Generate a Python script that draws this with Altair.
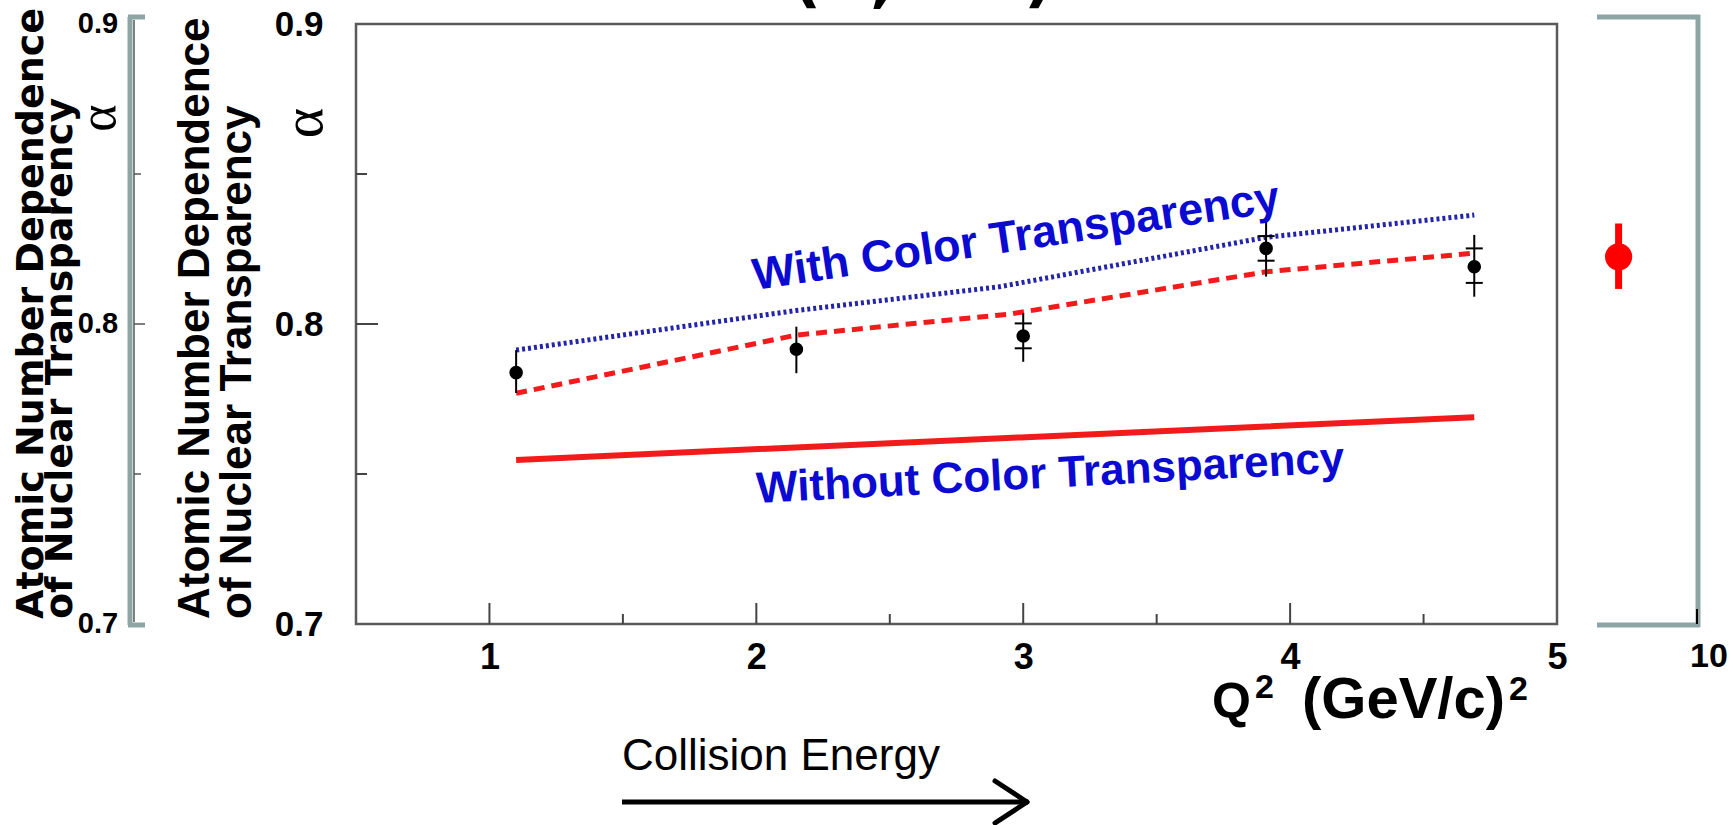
import altair as alt
import pandas as pd

# ---------------- data ----------------
q2_meas = [1.10, 2.15, 3.00, 3.91, 4.69]
alpha_meas = [0.7838, 0.7916, 0.7960, 0.8252, 0.8191]
stat_lo = [0.7770, 0.7836, 0.7874, 0.8158, 0.8091]
stat_hi = [0.7913, 0.7991, 0.8036, 0.8347, 0.8297]
q2_sys = [3.00, 3.91, 4.69]
sys_lo = [0.7919, 0.8211, 0.8137]
sys_hi = [0.8002, 0.8293, 0.8252]

q2_ct = [1.10, 2.15, 2.91, 3.91, 4.69]
alpha_ct = [0.7913, 0.8045, 0.8124, 0.8289, 0.8363]
q2_ct2 = [1.10, 2.15, 2.95, 3.91, 4.69]
alpha_ct2 = [0.7769, 0.7963, 0.8033, 0.8174, 0.8236]
q2_noct = [1.10, 2.99, 4.69]
alpha_noct = [0.7547, 0.7622, 0.7689]

q2_new = [7.2]
alpha_new = [0.8224]
new_lo = [0.8117]
new_hi = [0.8335]

x_ticks_major = [1, 2, 3, 4]
x_ticks_minor = [1.5, 2.5, 3.5, 4.5]
x_labels = [1, 2, 3, 4, 5]
x_label_right = [10]
y_labels = [0.7, 0.8, 0.9]
y_ticks_major = [0.8]
y_ticks_minor = [0.75, 0.85]

title_lines = ["Atomic Number Dependence", "of Nuclear Transparency"]
alpha_symbol = ["\u03b1"]
label_ct = ["With Color Transparency"]
label_noct = ["Without Color Transparency"]
label_energy = ["Collision Energy"]
xtitle_parts = ["Q", "2", "(GeV/c)", "2"]
top_fragments = ["(", ",", ")"]

# ---------------- styling ----------------
SANS = "Liberation Sans, Arial, Helvetica, sans-serif"
WIDE = "DejaVu Sans, Verdana, sans-serif"
SERIF = "Liberation Serif, Times New Roman, serif"
TEAL = "#8ea5a6"
BLUE_TXT = "#0a0ad2"
BLUE_LN = "#2424a8"
RED = "#f21b1b"

W, H = 1201, 600

xs = alt.Scale(domain=[0.5, 5], nice=False, zero=False)
ys = alt.Scale(domain=[0.7, 0.9], nice=False, zero=False)
xs_right = alt.Scale(domain=[5, 10], range=[1201, 1341], nice=False, zero=False)

xax = alt.Axis(values=x_labels, format="d", labelFontSize=36, labelFont=SANS,
               labelFontWeight="bold", labelColor="black", ticks=False, domain=False,
               grid=False, labelPadding=16, title=None, labelFlush=False)
yax = alt.Axis(values=y_labels, format=".1f", labelFontSize=35, labelFont=SANS,
               labelFontWeight="bold", labelColor="black", ticks=False, domain=False,
               grid=False, labelPadding=33, title=None, labelFlush=False)


def X(f):
    return alt.X(f, type="quantitative", scale=xs, axis=xax)


def Y(f):
    return alt.Y(f, type="quantitative", scale=ys, axis=yax)


def one(txt):
    return alt.Chart(pd.DataFrame({"t": txt}))


def label(txt, x, y, size, font=SANS, weight="bold", color="black", align="left",
          baseline="alphabetic", angle=0):
    return one(txt).mark_text(font=font, fontWeight=weight, fontSize=size, color=color,
                              align=align, baseline=baseline, angle=angle).encode(
        text="t:N", x=alt.value(x), y=alt.value(y))


meas = pd.DataFrame({"q2": q2_meas, "a": alpha_meas, "lo": stat_lo, "hi": stat_hi})
sysdf = pd.DataFrame({"q2": q2_sys * 2, "v": sys_lo + sys_hi})
ct = pd.DataFrame({"q2": q2_ct, "a": alpha_ct})
ct2 = pd.DataFrame({"q2": q2_ct2, "a": alpha_ct2})
noct = pd.DataFrame({"q2": q2_noct, "a": alpha_noct})

# inner ticks of the main frame
xt_major = alt.Chart(pd.DataFrame({"q": x_ticks_major})).mark_rule(color="#444", strokeWidth=2).encode(
    x=X("q"), y=alt.value(H), y2=alt.value(H - 21))
xt_minor = alt.Chart(pd.DataFrame({"q": x_ticks_minor})).mark_rule(color="#444", strokeWidth=2).encode(
    x=X("q"), y=alt.value(H), y2=alt.value(H - 10))
yt_major = alt.Chart(pd.DataFrame({"v": y_ticks_major})).mark_rule(color="#444", strokeWidth=2).encode(
    y=Y("v"), x=alt.value(0), x2=alt.value(22))
yt_minor = alt.Chart(pd.DataFrame({"v": y_ticks_minor})).mark_rule(color="#444", strokeWidth=2).encode(
    y=Y("v"), x=alt.value(0), x2=alt.value(11))

line_noct = alt.Chart(noct).mark_line(color=RED, strokeWidth=6).encode(x=X("q2"), y=Y("a"))
line_ct2 = alt.Chart(ct2).mark_line(color=RED, strokeWidth=5, strokeDash=[11, 7]).encode(x=X("q2"), y=Y("a"))
line_ct = alt.Chart(ct).mark_line(color=BLUE_LN, strokeWidth=5, strokeDash=[3, 3]).encode(x=X("q2"), y=Y("a"))

err = alt.Chart(meas).mark_rule(color="black", strokeWidth=2).encode(x=X("q2"), y=Y("lo"), y2="hi")
sysm = alt.Chart(sysdf).mark_point(shape="M -1 0 L 1 0", size=289, strokeWidth=2, color="black",
                                   filled=False, opacity=1).encode(x=X("q2"), y=Y("v"))
pts = alt.Chart(meas).mark_circle(size=185, color="black", opacity=1).encode(x=X("q2"), y=Y("a"))

txt_ct = label(label_ct, 399, 266, 45, color=BLUE_TXT, angle=351.5)
txt_noct = label(label_noct, 401, 479, 44, color=BLUE_TXT, angle=357)

# main y title (two rotated lines) and alpha
ttl1 = label([title_lines[0]], -147, 595, 44, angle=270)
ttl2 = label([title_lines[1]], -105, 595, 44, angle=270)
alp = label(alpha_symbol, -51, 99, 58, font=SERIF, weight="normal", align="center",
            baseline="middle", angle=270)

# ghost copy of the axis on the far left
g1 = label([title_lines[0]], -313, 595, 38, font=WIDE, angle=270)
g2 = label([title_lines[1]], -284, 595, 38, font=WIDE, angle=270)
galp = label(alpha_symbol, -257, 94, 52, font=SERIF, weight="normal", align="center",
             baseline="middle", angle=270)
glab = alt.Chart(pd.DataFrame({"v": y_labels})).mark_text(font=SANS, fontWeight="bold", fontSize=29,
                                                          color="black", align="center",
                                                          baseline="middle").encode(
    text=alt.Text("v:Q", format=".1f"), x=alt.value(-258), y=Y("v"))
gbr_v = one([""]).mark_rule(color=TEAL, strokeWidth=5).encode(
    x=alt.value(-226), y=alt.value(-7), y2=alt.value(601))
gbr_t = one([""]).mark_rule(color=TEAL, strokeWidth=5).encode(
    x=alt.value(-228), x2=alt.value(-211), y=alt.value(-7))
gbr_b = one([""]).mark_rule(color=TEAL, strokeWidth=5).encode(
    x=alt.value(-228), x2=alt.value(-211), y=alt.value(601))
gline = one([""]).mark_rule(color="#555", strokeWidth=1.5).encode(
    x=alt.value(-222), y=alt.value(-4), y2=alt.value(598))
gt_major = alt.Chart(pd.DataFrame({"v": y_ticks_major})).mark_rule(color="#555", strokeWidth=1.5).encode(
    y=Y("v"), x=alt.value(-222), x2=alt.value(-211))
gt_minor = alt.Chart(pd.DataFrame({"v": y_ticks_minor})).mark_rule(color="#555", strokeWidth=1.5).encode(
    y=Y("v"), x=alt.value(-222), x2=alt.value(-215))

# x title pieces and the "Collision Energy" arrow
xq = label([xtitle_parts[0]], 856, 694, 50)
xq2 = label([xtitle_parts[1]], 899, 674, 34)
xg = label([xtitle_parts[2]], 946, 694, 58)
xg2 = label([xtitle_parts[3]], 1153, 676, 34)
energy = label(label_energy, 266, 746, 44, weight="normal")
arrow = one([""]).mark_rule(color="black", strokeWidth=5).encode(
    x=alt.value(266), x2=alt.value(670), y=alt.value(778))
head1 = one([""]).mark_rule(color="black", strokeWidth=5, strokeCap="round").encode(
    x=alt.value(639), y=alt.value(757), x2=alt.value(671), y2=alt.value(778))
head2 = one([""]).mark_rule(color="black", strokeWidth=5, strokeCap="round").encode(
    x=alt.value(639), y=alt.value(799), x2=alt.value(671), y2=alt.value(778))

# bottoms of the cut-off handwritten heading above the plot
tf1 = label([top_fragments[0]], 436, -24, 64, font=WIDE)
tf2 = label([top_fragments[1]], 514, -24, 64, font=WIDE)
tf3 = label([top_fragments[2]], 668, -24, 64, font=WIDE)

main = alt.layer(
    g1, g2, galp, glab, gbr_v, gbr_t, gbr_b, gline, gt_major, gt_minor,
    ttl1, ttl2, alp,
    xt_major, xt_minor, yt_major, yt_minor,
    line_noct, line_ct2, line_ct, err, sysm, pts,
    txt_ct, txt_noct,
    xq, xq2, xg, xg2, energy, arrow, head1, head2,
    tf1, tf2, tf3,
)

# right-hand panel (broken axis up to 10)
newdf = pd.DataFrame({"q2": q2_new, "a": alpha_new, "lo": new_lo, "hi": new_hi})


def XR(f):
    return alt.X(f, type="quantitative", scale=xs_right, axis=None)


rbr_t = one([""]).mark_rule(color=TEAL, strokeWidth=5).encode(
    x=alt.value(1241), x2=alt.value(1344), y=alt.value(-7))
rbr_b = one([""]).mark_rule(color=TEAL, strokeWidth=5).encode(
    x=alt.value(1241), x2=alt.value(1344), y=alt.value(601))
rbr_v = one([""]).mark_rule(color=TEAL, strokeWidth=5).encode(
    x=alt.value(1342), y=alt.value(-9), y2=alt.value(603))
rtick = alt.Chart(pd.DataFrame({"q": x_label_right})).mark_rule(color="black", strokeWidth=2).encode(
    x=XR("q"), y=alt.value(600), y2=alt.value(585))
rlab = alt.Chart(pd.DataFrame({"q": x_label_right})).mark_text(
    font=SANS, fontWeight="bold", fontSize=34, color="black", align="center", baseline="middle", dx=12).encode(
    x=XR("q"), y=alt.value(633), text=alt.Text("q:Q", format="d"))
rerr = alt.Chart(newdf).mark_rule(color="#ff0000", strokeWidth=7).encode(x=XR("q2"), y=Y("lo"), y2="hi")
rpt = alt.Chart(newdf).mark_circle(size=740, color="#ff0000", opacity=1).encode(x=XR("q2"), y=Y("a"))

right = alt.layer(rbr_t, rbr_b, rbr_v, rtick, rlab, rerr, rpt)

chart = alt.layer(main, right).resolve_scale(x="independent").properties(
    width=W, height=H,
    padding={"left": 356, "top": 24, "right": 1733 - 356 - W, "bottom": 825 - 24 - H},
    autosize="none",
    background="white",
).configure_view(stroke="#5a5a5a", strokeWidth=2.5)

chart.save("out.html", embed_options={"renderer": "svg", "actions": False})
